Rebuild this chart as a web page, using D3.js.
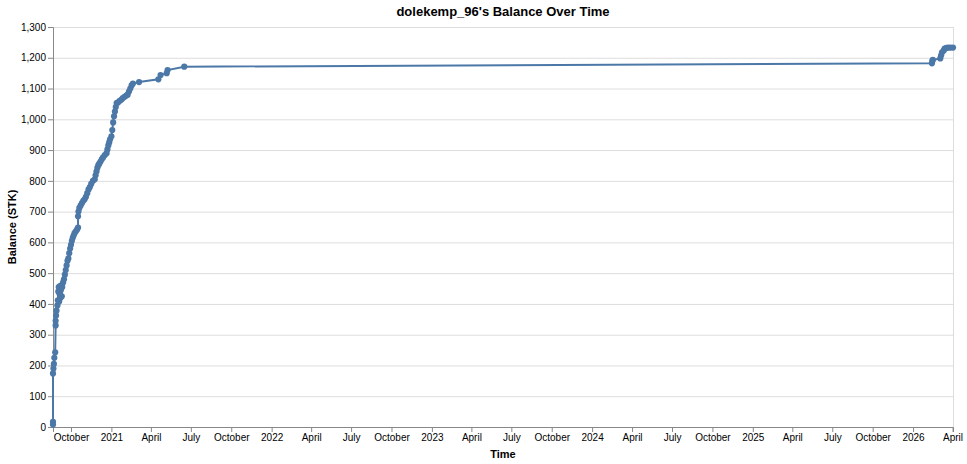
<!DOCTYPE html>
<html>
<head>
<meta charset="utf-8">
<script src="https://cdn.jsdelivr.net/npm/d3@7"></script>
<style>
  body { margin: 0; background: #fff; }
  svg text { font-family: "Liberation Sans", Arial, sans-serif; }
</style>
</head>
<body>
<div id="chart"></div>
<script>
// balance readings (date, STK)
var dates = [
  "2020-08-21","2020-08-21","2020-08-21","2020-08-22","2020-08-23","2020-08-24","2020-08-26",
  "2020-08-27","2020-08-27","2020-08-28","2020-08-29","2020-08-31","2020-09-01","2020-09-02",
  "2020-09-03","2020-09-04","2020-09-05","2020-09-06","2020-09-07","2020-09-08","2020-09-09",
  "2020-09-10","2020-09-11","2020-09-13","2020-09-15","2020-09-17","2020-09-19","2020-09-21",
  "2020-09-23","2020-09-25","2020-09-27","2020-09-29","2020-10-01","2020-10-03","2020-10-05",
  "2020-10-07","2020-10-09","2020-10-12","2020-10-15","2020-10-17","2020-10-17","2020-10-18",
  "2020-10-20","2020-10-23","2020-10-26","2020-10-29","2020-11-01","2020-11-04","2020-11-07",
  "2020-11-10","2020-11-13","2020-11-16","2020-11-20","2020-11-24","2020-11-26","2020-11-28",
  "2020-11-30","2020-12-02","2020-12-04","2020-12-07","2020-12-10","2020-12-13","2020-12-17",
  "2020-12-21","2020-12-23","2020-12-25","2020-12-27","2020-12-29","2021-01-01","2021-01-03",
  "2021-01-05","2021-01-07","2021-01-09","2021-01-11","2021-01-13","2021-01-16","2021-01-20",
  "2021-01-24","2021-01-27","2021-01-31","2021-02-04","2021-02-07","2021-02-10","2021-02-13",
  "2021-02-16","2021-02-19","2021-03-05","2021-04-18","2021-04-23","2021-05-07","2021-05-09",
  "2021-06-16","2026-02-13","2026-02-14","2026-02-15","2026-03-04","2026-03-06","2026-03-08",
  "2026-03-12","2026-03-14","2026-03-18","2026-03-22","2026-03-27","2026-04-02"
];
var balances = [
  8,17,174,190,205,225,243,
  330,345,362,378,395,412,440,
  455,408,432,458,420,445,460,
  425,455,470,480,495,510,525,
  540,548,565,580,592,605,615,
  622,630,636,642,648,685,700,
  712,720,728,735,740,748,760,
  772,780,790,800,805,818,830,
  842,850,855,862,870,876,884,
  890,902,915,925,935,945,965,
  990,1010,1025,1040,1053,1055,1060,
  1064,1069,1073,1077,1080,1090,1100,
  1110,1116,1121,1130,1144,1150,1160,
  1171,1182,1190,1193,1198,1208,1218,
  1224,1230,1232,1233,1233,1233
];
var yTicks = [0,100,200,300,400,500,600,700,800,900,1000,1100,1200,1300];

var w = 967, h = 464;
var padLeft = 53, padTop = 27, plotW = 900, plotH = 400;
var color = "#4c78a8";

var parse = d3.utcParse("%Y-%m-%d");
var data = dates.map(function(d, i){ return {t: parse(d), v: balances[i]}; });

var svg = d3.select("#chart").append("svg")
  .attr("width", w)
  .attr("height", h);

var x = d3.scaleUtc()
  .domain(d3.extent(data, function(d){ return d.t; }))
  .range([0, plotW]);

var y = d3.scaleLinear()
  .domain([0, 1300])
  .range([plotH, 0]);

var g = svg.append("g").attr("transform", "translate(" + padLeft + "," + padTop + ")");

// horizontal grid
g.append("g").selectAll("line")
  .data(yTicks)
  .enter().append("line")
  .attr("x1", 0).attr("x2", plotW)
  .attr("y1", function(d){ return y(d) + 0.5; })
  .attr("y2", function(d){ return y(d) + 0.5; })
  .attr("stroke", "#ddd");

// view border (right edge)
g.append("line")
  .attr("x1", plotW + 0.5).attr("x2", plotW + 0.5)
  .attr("y1", 0).attr("y2", plotH)
  .attr("stroke", "#ddd");

var fmt = function(d){
  return d.getUTCMonth() === 0 ? d3.utcFormat("%Y")(d) : d3.utcFormat("%B")(d);
};

var xAxis = d3.axisBottom(x)
  .ticks(d3.utcMonth.every(3))
  .tickFormat(fmt)
  .tickSize(5)
  .tickPadding(2);

var yAxis = d3.axisLeft(y)
  .tickValues(yTicks)
  .tickFormat(d3.format(","))
  .tickSize(5)
  .tickPadding(2);

var gx = g.append("g")
  .attr("transform", "translate(0," + plotH + ")")
  .call(xAxis);

var gy = g.append("g").call(yAxis);

[gx, gy].forEach(function(ax){
  ax.select(".domain").attr("stroke", "#888");
  ax.selectAll(".tick line").attr("stroke", "#888");
  ax.selectAll(".tick text")
    .attr("fill", "#000")
    .style("font-size", "10px")
    .style("font-family", "'Liberation Sans', Arial, sans-serif");
});

// line + points
var line = d3.line()
  .x(function(d){ return x(d.t); })
  .y(function(d){ return y(d.v); });

g.append("path")
  .datum(data)
  .attr("fill", "none")
  .attr("stroke", color)
  .attr("stroke-width", 2)
  .attr("d", line);

g.selectAll("circle")
  .data(data)
  .enter().append("circle")
  .attr("cx", function(d){ return x(d.t); })
  .attr("cy", function(d){ return y(d.v); })
  .attr("r", 3.1)
  .attr("fill", color);

// titles
svg.append("text")
  .attr("x", padLeft + plotW / 2)
  .attr("y", 16)
  .attr("text-anchor", "middle")
  .style("font-size", "13px")
  .style("font-weight", "bold")
  .text("dolekemp_96's Balance Over Time");

svg.append("text")
  .attr("x", padLeft + plotW / 2)
  .attr("y", 458)
  .attr("text-anchor", "middle")
  .style("font-size", "11px")
  .style("font-weight", "bold")
  .text("Time");

svg.append("text")
  .attr("transform", "translate(16," + (padTop + plotH / 2) + ") rotate(-90)")
  .attr("text-anchor", "middle")
  .style("font-size", "11px")
  .style("font-weight", "bold")
  .text("Balance (STK)");
</script>
</body>
</html>
